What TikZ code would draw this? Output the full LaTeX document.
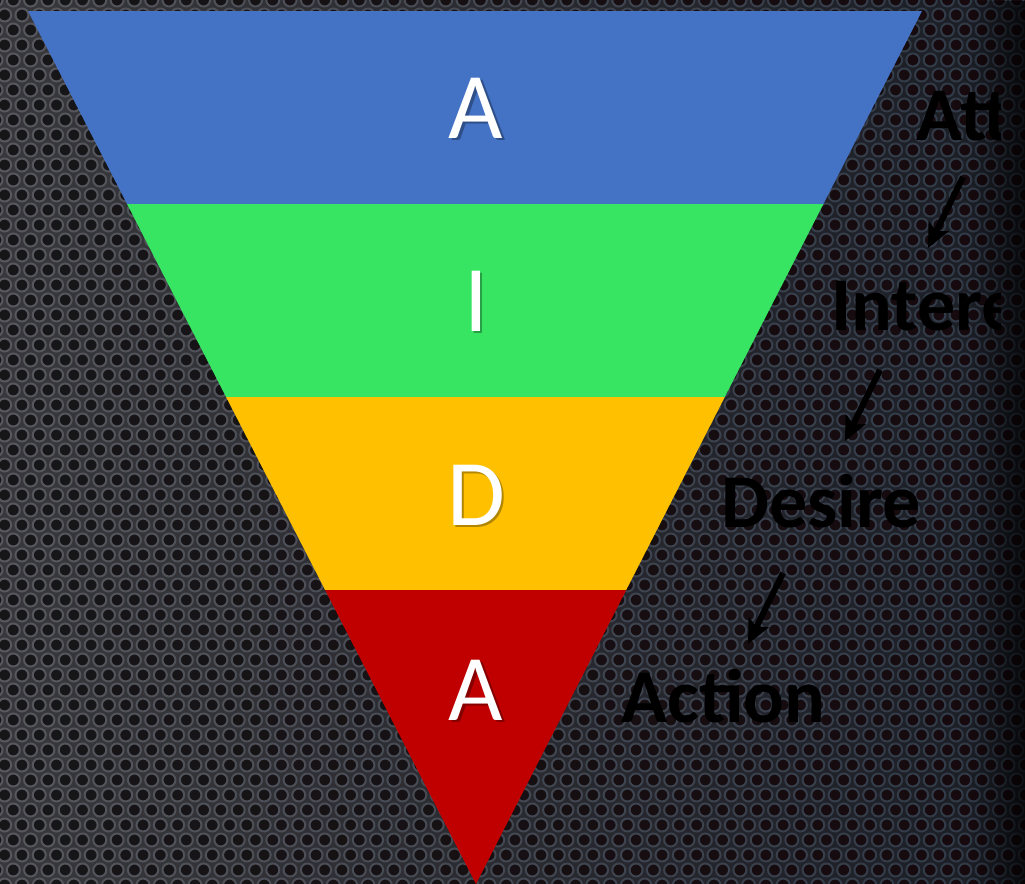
\documentclass[tikz,border=0pt]{standalone}
\usepackage{fontspec}
\setmainfont{Carlito}
\usetikzlibrary{arrows.meta,fadings}
\definecolor{cblue}{HTML}{4472C4}
\definecolor{cgreen}{HTML}{38E562}
\definecolor{cyellow}{HTML}{FFC000}
\definecolor{cred}{HTML}{C00000}
\definecolor{bgL}{HTML}{38383C}
\definecolor{bgR}{HTML}{1B1D25}
\definecolor{holeL}{HTML}{161618}
\definecolor{holeR}{HTML}{16090D}
\definecolor{rimL}{HTML}{58585E}
\definecolor{rimR}{HTML}{2E3846}
\tikzfading[name=fadeR, left color=transparent!100, right color=transparent!0]
\tikzset{
  bigletter/.style={text=white, inner sep=0pt, anchor=base, font=\fontsize{47}{50}\selectfont},
  lettershadow/.style={text=black, opacity=0.3, inner sep=0pt, anchor=base, font=\fontsize{47}{50}\selectfont},
  stagetext/.style={text=black, inner sep=0pt, anchor=base west, font=\bfseries\fontsize{38}{40}\selectfont},
  stagearrow/.style={draw=black, line width=3pt, -{Stealth[length=12pt,width=11pt,inset=2.5pt]}}
}
\begin{document}
\begin{tikzpicture}[x=0.5pt,y=-0.5pt]
\useasboundingbox (0,0) rectangle (1025,884);
% background plate
\shade[left color=bgL, right color=bgR] (0,0) rectangle (1025,884);
\foreach \i in {0,...,60}{
  \pgfmathtruncatemacro\t{100-\i*100/60}
  \path[fill=holeL!\t!holeR, draw=rimL!\t!rimR, line width=1pt]
    foreach \j in {0,...,60}{({\i*17.3+mod(\j,2)*8.65-4},{\j*15}) circle[radius=6.5]};
}
\fill[black, path fading=fadeR, opacity=0.7] (970,0) rectangle (1025,884);
% funnel
\begin{scope}
  \clip (28,11) -- (922,11) -- (476,884) -- cycle;
  \fill[cblue] (0,11) rectangle (1025,204);
  \fill[cgreen] (0,204) rectangle (1025,397);
  \fill[cyellow] (0,397) rectangle (1025,590);
  \fill[cred] (0,590) rectangle (1025,884);
\end{scope}
% letters
\node[lettershadow] (sa1) at (478.5,140.5) {A};
\node[bigletter] (la1) at (476,138) {A};
\node[lettershadow] (si) at (478.5,333.5) {I};
\node[bigletter] (li) at (476,331) {I};
\node[lettershadow] (sd) at (478.5,527.5) {D};
\node[bigletter] (ld) at (476,525) {D};
\node[lettershadow] (sa2) at (478.5,722.5) {A};
\node[bigletter] (la2) at (476,720) {A};
% stages
\begin{scope}
  \clip (0,0) rectangle (1000,884);
  \node[stagetext] (tatt) at (916,140) {Attention};
  \node[stagetext] (tint) at (831,330) {Interest};
  \node[stagetext] (tdes) at (721,527) {Desire};
  \node[stagetext] (tact) at (621,722) {Action};
\end{scope}
\coordinate (a1s) at (963,177);
\coordinate (a1e) at (928,248);
\coordinate (a2s) at (880,370);
\coordinate (a2e) at (845,441);
\coordinate (a3s) at (783,573);
\coordinate (a3e) at (748,644);
\draw[stagearrow] (a1s) -- (a1e);
\draw[stagearrow] (a2s) -- (a2e);
\draw[stagearrow] (a3s) -- (a3e);
\end{tikzpicture}
\end{document}
